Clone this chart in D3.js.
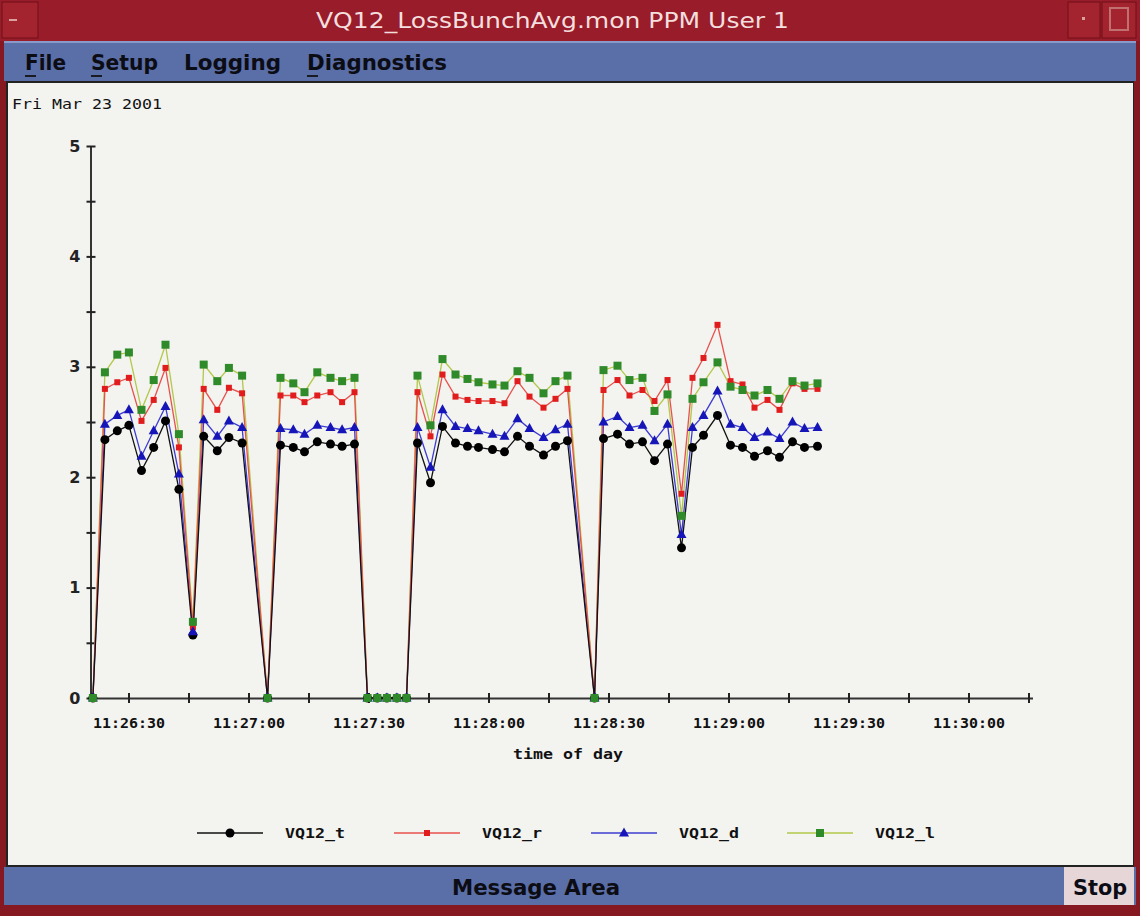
<!DOCTYPE html>
<html><head><meta charset="utf-8">
<script src="https://cdn.jsdelivr.net/npm/d3@7"></script>
<style>html,body{margin:0;padding:0;background:#8a1a22;overflow:hidden}svg{display:block}</style>
</head><body><svg id="c" width="1140" height="916"></svg>
<script>
// ---- data (time in seconds after 11:26:00, Fri Mar 23 2001) ----
const timeSec = [21.1, 24.1, 27.2, 30.1, 33.25, 36.3, 39.25, 42.6, 46.1,
  48.8, 52.2, 55.1, 58.4, 64.75,
  68, 71.2, 74, 77.2, 80.5, 83.4, 86.5,
  89.75, 92.2, 94.6, 97.1, 99.5,
  102.25, 105.5, 108.5, 111.75, 114.75, 117.5, 121, 124, 127.25, 130.25, 133.75, 136.75, 139.75,
  146.5,
  148.75, 152.25, 155.25, 158.5, 161.5, 164.75, 168.25, 171, 173.75, 177.25, 180.5, 183.5, 186.5, 189.75, 192.75, 196, 199, 202.25];
const seriesNames = ["VQ12_t", "VQ12_r", "VQ12_d", "VQ12_l"];
const vq12_t = [0, 2.34,2.42,2.47,2.06,2.27,2.51,1.89,0.57, 2.37,2.24,2.36,2.31, 0,
  2.29,2.27,2.23,2.32,2.30,2.28,2.30, 0,0,0,0,0,
  2.31,1.95,2.46,2.31,2.28,2.27,2.25,2.23,2.37,2.28,2.20,2.28,2.33, 0,
  2.35,2.39,2.30,2.32,2.15,2.30,1.36,2.27,2.38,2.56,2.29,2.27,2.19,2.24,2.18,2.32,2.27,2.28];
const vq12_r = [0, 2.80,2.86,2.90,2.51,2.70,2.99,2.27,0.64, 2.80,2.61,2.81,2.76, 0,
  2.74,2.74,2.68,2.74,2.77,2.68,2.77, 0,0,0,0,0,
  2.77,2.37,2.93,2.73,2.70,2.69,2.69,2.67,2.87,2.73,2.63,2.71,2.80, 0,
  2.79,2.88,2.74,2.79,2.69,2.88,1.85,2.90,3.08,3.38,2.87,2.84,2.63,2.70,2.61,2.85,2.80,2.80];
const vq12_d = [0, 2.48,2.56,2.61,2.19,2.42,2.64,2.03,0.60, 2.52,2.37,2.51,2.45, 0,
  2.44,2.43,2.39,2.47,2.45,2.43,2.45, 0,0,0,0,0,
  2.45,2.09,2.61,2.46,2.44,2.42,2.39,2.37,2.53,2.44,2.36,2.43,2.48, 0,
  2.50,2.55,2.45,2.47,2.33,2.48,1.48,2.45,2.56,2.78,2.48,2.45,2.36,2.41,2.35,2.50,2.44,2.45];
const vq12_l = [0, 2.95,3.11,3.13,2.61,2.88,3.20,2.39,0.69, 3.02,2.87,2.99,2.92, 0,
  2.90,2.85,2.77,2.95,2.90,2.87,2.90, 0,0,0,0,0,
  2.92,2.47,3.07,2.93,2.89,2.86,2.84,2.83,2.96,2.90,2.76,2.87,2.92, 0,
  2.97,3.01,2.88,2.90,2.60,2.75,1.65,2.71,2.86,3.04,2.82,2.79,2.74,2.79,2.71,2.87,2.83,2.85];
const yTicks = [0, 1, 2, 3, 4, 5];
const xTickLabels = ["11:26:30","11:27:00","11:27:30","11:28:00","11:28:30","11:29:00","11:29:30","11:30:00"];
const dateLabel = "Fri Mar 23 2001";
const windowTitle = "VQ12_LossBunchAvg.mon  PPM User 1";
const menuItems = ["File", "Setup", "Logging", "Diagnostics"];

// ---- helpers ----
const base = new Date(2001, 2, 23, 11, 26, 0).getTime();
const T = s => new Date(base + s * 1000);
const parseHMS = d3.timeParse("%Y-%m-%d %H:%M:%S");
const tickDates = xTickLabels.map(l => parseHMS("2001-03-23 " + l));

const svg = d3.select("#c");

// ---- window chrome ----
svg.append("rect").attr("x",0).attr("y",0).attr("width",1140).attr("height",916).attr("fill","#861822");
svg.append("rect").attr("x",0).attr("y",0).attr("width",1140).attr("height",41).attr("fill","#981c29");
svg.append("rect").attr("x",2).attr("y",2).attr("width",36).attr("height",36).attr("fill","#a3232f").attr("stroke","#6e1018");
svg.append("line").attr("x1",9).attr("x2",17).attr("y1",20).attr("y2",20).attr("stroke","#d9a0a0").attr("stroke-width",2);
svg.append("rect").attr("x",1068).attr("y",2).attr("width",32).attr("height",36).attr("fill","#a3232f").attr("stroke","#6e1018");
svg.append("rect").attr("x",1082).attr("y",17).attr("width",3).attr("height",3).attr("fill","#d9a0a0");
svg.append("rect").attr("x",1102).attr("y",2).attr("width",34).attr("height",36).attr("fill","#a3232f").attr("stroke","#6e1018");
svg.append("rect").attr("x",1110).attr("y",8).attr("width",18).attr("height",22).attr("fill","none").attr("stroke","#c07070").attr("stroke-width",2);
svg.append("text").attr("x",316).attr("y",28).attr("textLength",473).attr("lengthAdjust","spacingAndGlyphs")
  .attr("font-family","DejaVu Sans, sans-serif").attr("font-size",21).attr("fill","#f4dede").text(windowTitle);

// menu bar
svg.append("rect").attr("x",4).attr("y",41).attr("width",1132).attr("height",40).attr("fill","#5a6ea7");
svg.append("line").attr("x1",4).attr("x2",1136).attr("y1",42).attr("y2",42).attr("stroke","#8a9ac8").attr("stroke-width",2);
const menuX = [25, 91, 184, 307], menuW = [41, 67, 97, 140];
menuItems.forEach((m,i) => {
  svg.append("text").attr("x",menuX[i]).attr("y",70).attr("textLength",menuW[i]).attr("lengthAdjust","spacingAndGlyphs")
    .attr("font-family","DejaVu Sans, sans-serif").attr("font-weight","bold").attr("font-size",21).attr("fill","#0c0c14").text(m);
  if (i !== 2) svg.append("line").attr("x1",menuX[i]).attr("x2",menuX[i]+11).attr("y1",76).attr("y2",76).attr("stroke","#1a1a22").attr("stroke-width",2);
});

// plot panel
svg.append("rect").attr("x",6).attr("y",81).attr("width",1128).attr("height",786).attr("fill","#222");
svg.append("rect").attr("x",8).attr("y",83).attr("width",1125).attr("height",782).attr("fill","#f3f3f0");

// message bar
svg.append("rect").attr("x",4).attr("y",867).attr("width",1132).attr("height",38).attr("fill","#5a6ea7");
svg.append("text").attr("x",452).attr("y",895).attr("textLength",168).attr("lengthAdjust","spacingAndGlyphs")
  .attr("font-family","DejaVu Sans, sans-serif").attr("font-weight","bold").attr("font-size",21).attr("fill","#0c0c14").text("Message Area");
svg.append("rect").attr("x",1064).attr("y",867).attr("width",70).attr("height",38).attr("fill","#e6d6d8");
svg.append("text").attr("x",1073).attr("y",895).attr("textLength",54).attr("lengthAdjust","spacingAndGlyphs")
  .attr("font-family","DejaVu Sans, sans-serif").attr("font-weight","bold").attr("font-size",21).attr("fill","#0c0c14").text("Stop");

// date label
svg.append("text").attr("x",12).attr("y",109).attr("textLength",150).attr("lengthAdjust","spacingAndGlyphs")
  .attr("font-family","DejaVu Sans Mono, monospace").attr("font-size",14).attr("fill","#111").text(dateLabel);

// ---- scales ----
const x = d3.scaleTime().domain([T(20.5), T(256)]).range([90.5, 1032.5]);
const y = d3.scaleLinear().domain([0, 5]).range([698, 146]);

// axes
const xAxis = d3.axisBottom(x).tickValues(d3.timeSecond.every(15).range(T(30), T(256)))
  .tickSize(0).tickFormat(d => tickDates.some(t => t.getTime() === d.getTime()) ? d3.timeFormat("%H:%M:%S")(d) : "");
const gx = svg.append("g").attr("transform","translate(0,698)").call(xAxis);
gx.select(".domain").attr("stroke","#333").attr("stroke-width",2.2);
gx.selectAll(".tick line").attr("y1",-5).attr("y2",5).attr("stroke","#222").attr("stroke-width",2);
gx.selectAll(".tick text").attr("dy",0).attr("y",30).attr("font-family","DejaVu Sans Mono, monospace")
  .attr("font-weight","bold").attr("font-size",14).attr("fill","#111")
  .each(function(){ if (this.textContent) d3.select(this).attr("textLength",72).attr("lengthAdjust","spacingAndGlyphs"); });

const yAxis = d3.axisLeft(y).tickValues(d3.range(0, 5.01, 0.5)).tickSize(0)
  .tickFormat(d => yTicks.includes(d) ? d : "");
const gy = svg.append("g").attr("transform","translate(90.5,0)").call(yAxis);
gy.select(".domain").attr("stroke","#333").attr("stroke-width",2);
gy.selectAll(".tick line").attr("x1",-4).attr("x2",5).attr("stroke","#222").attr("stroke-width",2);
gy.selectAll(".tick text").attr("x",-10).attr("font-family","DejaVu Sans, sans-serif").attr("font-weight","bold")
  .attr("font-size",16).attr("fill","#222");

svg.append("text").attr("x",568).attr("y",759).attr("text-anchor","middle").attr("textLength",110).attr("lengthAdjust","spacingAndGlyphs")
  .attr("font-family","DejaVu Sans Mono, monospace").attr("font-weight","bold").attr("font-size",14).attr("fill","#111").text("time of day");

// ---- series ----
const series = [
  {name: seriesNames[0], vals: vq12_t, line: "#111111", mark: "#000000", shape: "circle"},
  {name: seriesNames[1], vals: vq12_r, line: "#e8504c", mark: "#e01c1c", shape: "smallsq"},
  {name: seriesNames[2], vals: vq12_d, line: "#3c3cd2", mark: "#1515b8", shape: "tri"},
  {name: seriesNames[3], vals: vq12_l, line: "#b2c84a", mark: "#2f8a2a", shape: "sq"}
];
const lineGen = d3.line().x(d => x(T(d[0]))).y(d => y(d[1]));

function marker(g, shape, cx, cy, color) {
  if (shape === "circle") g.append("circle").attr("cx",cx).attr("cy",cy).attr("r",4.5).attr("fill",color);
  else if (shape === "smallsq") g.append("rect").attr("x",cx-3).attr("y",cy-3).attr("width",6).attr("height",6).attr("fill",color);
  else if (shape === "sq") g.append("rect").attr("x",cx-4).attr("y",cy-4).attr("width",8).attr("height",8).attr("fill",color);
  else if (shape === "tri") g.append("path").attr("d",`M${cx},${cy-5.5}L${cx+5},${cy+3.5}L${cx-5},${cy+3.5}Z`).attr("fill",color);
}

const gl = svg.append("g");
[3,2,1,0].forEach(i => {
  const s = series[i];
  gl.append("path").datum(timeSec.map((t,k) => [t, s.vals[k]]))
    .attr("d", lineGen).attr("fill","none").attr("stroke", s.line).attr("stroke-width",1.3);
});
const gm = svg.append("g");
[0,1,2,3].forEach(i => {
  const s = series[i];
  timeSec.forEach((t,k) => marker(gm, s.shape, x(T(t)), y(s.vals[k]), s.mark));
});

// ---- legend ----
const legX = [197, 394, 591, 787];
series.forEach((s,i) => {
  const g = svg.append("g");
  g.append("line").attr("x1",legX[i]).attr("x2",legX[i]+66).attr("y1",833).attr("y2",833).attr("stroke",s.line).attr("stroke-width",1.6);
  marker(g, s.shape, legX[i]+33, 833, s.mark);
  g.append("text").attr("x",legX[i]+88).attr("y",838).attr("textLength",60).attr("lengthAdjust","spacingAndGlyphs")
    .attr("font-family","DejaVu Sans Mono, monospace").attr("font-weight","bold").attr("font-size",14).attr("fill","#111").text(s.name);
});
</script></body></html>
